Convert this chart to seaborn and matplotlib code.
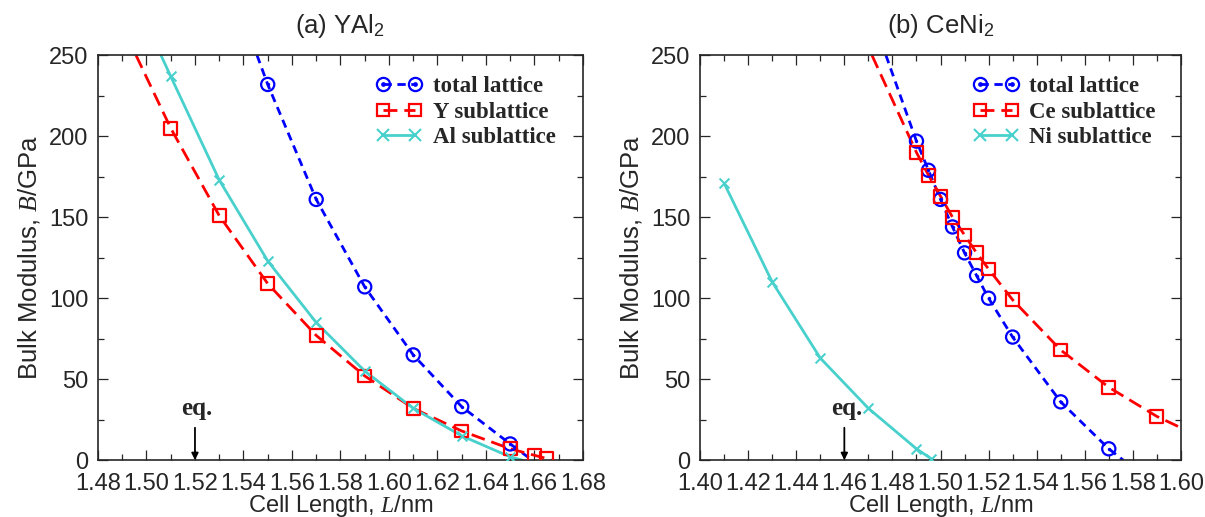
import matplotlib
matplotlib.use("Agg")
import matplotlib.pyplot as plt
import seaborn as sns
import pandas as pd
from matplotlib.legend_handler import HandlerTuple
from matplotlib.lines import Line2D

# ---- (a) YAl2 : measured points ----
a_total_L = [1.55, 1.57, 1.59, 1.61, 1.63, 1.65]
a_total_B = [232, 161, 107, 65, 33, 10]
a_y_L = [1.51, 1.53, 1.55, 1.57, 1.59, 1.61, 1.63, 1.65, 1.66, 1.665]
a_y_B = [205, 151, 109, 77, 52, 32, 18, 7, 3, 1]
a_al_L = [1.51, 1.53, 1.55, 1.57, 1.59, 1.61, 1.63, 1.65]
a_al_B = [237, 173, 123, 85, 55, 32, 15, 2]

# fitted curves (where they leave the frame)
a_total_curve_L = [1.5456] + a_total_L + [1.659]
a_total_curve_B = [250] + a_total_B + [0]
a_y_curve_L = [1.4957] + a_y_L + [1.667]
a_y_curve_B = [250] + a_y_B + [0]
a_al_curve_L = [1.506] + a_al_L + [1.655]
a_al_curve_B = [250] + a_al_B + [0]

# ---- (b) CeNi2 : measured points ----
b_total_L = [1.49, 1.495, 1.50, 1.505, 1.51, 1.515, 1.52, 1.53, 1.55, 1.57]
b_total_B = [197, 179, 161, 144, 128, 114, 100, 76, 36, 7]
b_ce_L = [1.49, 1.495, 1.50, 1.505, 1.51, 1.515, 1.52, 1.53, 1.55, 1.57, 1.59]
b_ce_B = [190, 176, 163, 150, 139, 128, 118, 99, 68, 45, 27]
b_ni_L = [1.41, 1.43, 1.45, 1.47, 1.49, 1.496]
b_ni_B = [171, 110, 63, 32, 7, 1]

b_total_curve_L = [1.4773] + b_total_L + [1.576]
b_total_curve_B = [250] + b_total_B + [0]
b_ce_curve_L = [1.4715] + b_ce_L + [1.60]
b_ce_curve_B = [250] + b_ce_B + [20]
b_ni_curve_L = b_ni_L + [1.497]
b_ni_curve_B = b_ni_B + [0]

BLUE = "#0000ff"
RED = "#ff0000"
CYAN = "#48d1cc"

sns.set_style("ticks")
plt.rcParams["font.family"] = ["Liberation Sans", "DejaVu Sans"]
plt.rcParams["mathtext.fontset"] = "custom"
plt.rcParams["mathtext.it"] = "Liberation Serif:italic"
plt.rcParams["mathtext.rm"] = "Liberation Sans"
plt.rcParams["xtick.direction"] = "in"
plt.rcParams["ytick.direction"] = "in"

fig = plt.figure(figsize=(12.05, 5.17), dpi=100)
ax_a = fig.add_axes([0.0813, 0.110, 0.4025, 0.783])
ax_b = fig.add_axes([0.581, 0.110, 0.399, 0.783])


def draw_series(ax, cl, cb, pl, pb, color, dashes, marker, label):
    df_c = pd.DataFrame({"L": cl, "B": cb})
    sns.lineplot(data=df_c, x="L", y="B", ax=ax, color=color, lw=2.0,
                 sort=False, estimator=None)
    if dashes:
        ax.lines[-1].set_dashes(dashes)
    df_p = pd.DataFrame({"L": pl, "B": pb})
    if marker == "o":
        sns.scatterplot(data=df_p, x="L", y="B", ax=ax, marker="o", s=90,
                        facecolor="none", edgecolor=color, linewidth=1.6, zorder=5)
        sns.scatterplot(data=df_p, x="L", y="B", ax=ax, marker="o", s=6,
                        color=color, linewidth=0, zorder=6)
        h = (Line2D([], [], color=color, lw=2.0, dashes=dashes, marker="o", ms=9.5,
                    mfc="none", mew=1.6),
             Line2D([], [], color=color, lw=0, marker="o", ms=2.4))
    elif marker == "s":
        sns.scatterplot(data=df_p, x="L", y="B", ax=ax, marker="s", s=85,
                        facecolor="none", edgecolor=color, linewidth=1.6, zorder=5)
        h = Line2D([], [], color=color, lw=2.0, dashes=dashes, marker="s", ms=9,
                   mfc="none", mew=1.6)
    else:
        sns.scatterplot(data=df_p, x="L", y="B", ax=ax, marker="x", s=50,
                        color=color, linewidth=1.5, zorder=5)
        h = Line2D([], [], color=color, lw=2.0, marker="x", ms=8.5, mew=1.5)
    return h, label


def style_axes(ax, xlim, title, eq_x):
    ax.set_xlim(*xlim)
    ax.set_ylim(0, 250)
    ax.set_xticks([round(xlim[0] + 0.02 * i, 2) for i in range(11)])
    ax.set_xticks([round(xlim[0] + 0.01 * i, 2) for i in range(21)], minor=True)
    ax.set_yticks(range(0, 251, 50))
    ax.set_yticks(range(0, 251, 25), minor=True)
    ax.xaxis.set_major_formatter(matplotlib.ticker.FormatStrFormatter("%.2f"))
    ax.tick_params(which="both", top=True, right=True, labelsize=17)
    ax.tick_params(axis="x", pad=9)
    ax.tick_params(axis="y", pad=7)
    ax.tick_params(which="major", length=7, width=0.9)
    ax.tick_params(which="minor", length=4, width=0.9)
    for sp in ax.spines.values():
        sp.set_linewidth(1.2)
        sp.set_visible(True)
    ax.set_xlabel("Cell Length, $L$/nm", fontsize=17, labelpad=-1)
    ax.set_ylabel("Bulk Modulus, $B$/GPa", fontsize=18.5, labelpad=5)
    ax.set_title(title, fontsize=18.5, pad=16)
    ax.annotate("", xy=(eq_x, 0), xytext=(eq_x, 20),
                arrowprops=dict(arrowstyle="-|>", color="black", lw=1.3,
                                mutation_scale=10, shrinkA=0, shrinkB=0))
    ax.text(eq_x + 0.0008, 25, "eq.", ha="center", va="bottom", fontsize=18,
            fontweight="bold", family="Liberation Serif")


def add_legend(ax, handles, x0):
    hs = [h for h, _ in handles]
    ls = [l for _, l in handles]
    ax.legend(hs, ls, loc="upper left", bbox_to_anchor=(x0, 0.948),
              frameon=False, numpoints=2, handlelength=2.0, handletextpad=0.45,
              labelspacing=0.18, borderpad=0.0, borderaxespad=0.0,
              handler_map={tuple: HandlerTuple(ndivide=1, pad=0)},
              prop={"family": "Liberation Serif", "weight": "bold", "size": 16.5})


ha = [
    draw_series(ax_a, a_total_curve_L, a_total_curve_B, a_total_L, a_total_B,
                BLUE, (3, 2), "o", "total lattice"),
    draw_series(ax_a, a_y_curve_L, a_y_curve_B, a_y_L, a_y_B,
                RED, (5, 2.5), "s", "Y sublattice"),
    draw_series(ax_a, a_al_curve_L, a_al_curve_B, a_al_L, a_al_B,
                CYAN, None, "x", "Al sublattice"),
]
style_axes(ax_a, (1.48, 1.68), "(a) YAl$_2$", 1.52)
add_legend(ax_a, ha, 0.574)

hb = [
    draw_series(ax_b, b_total_curve_L, b_total_curve_B, b_total_L, b_total_B,
                BLUE, (3, 2), "o", "total lattice"),
    draw_series(ax_b, b_ce_curve_L, b_ce_curve_B, b_ce_L, b_ce_B,
                RED, (5, 2.5), "s", "Ce sublattice"),
    draw_series(ax_b, b_ni_curve_L, b_ni_curve_B, b_ni_L, b_ni_B,
                CYAN, None, "x", "Ni sublattice"),
]
style_axes(ax_b, (1.40, 1.60), "(b) CeNi$_2$", 1.46)
add_legend(ax_b, hb, 0.567)

fig.savefig("out.png", dpi=100)
